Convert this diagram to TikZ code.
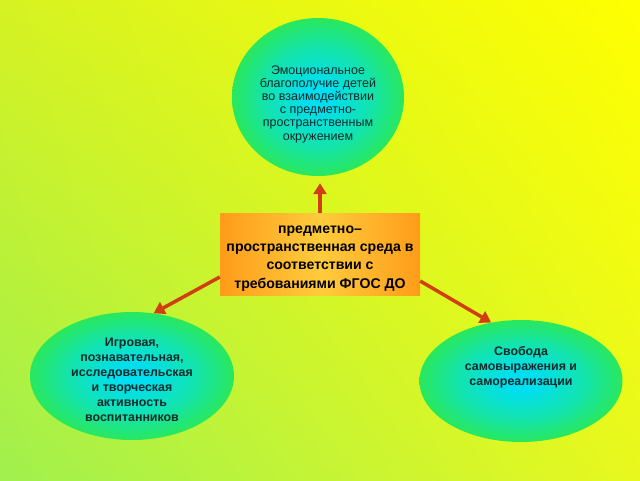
\documentclass[tikz,border=0pt]{standalone}
\usepackage{fontspec}
\setmainfont{Liberation Sans}
\usetikzlibrary{shapes.geometric,arrows.meta,calc,shadings}
\definecolor{bgUL}{RGB}{214,242,34}
\definecolor{bgUR}{RGB}{255,255,0}
\definecolor{bgLL}{RGB}{160,240,78}
\definecolor{bgLR}{RGB}{232,248,30}
\definecolor{ellIn}{RGB}{0,222,240}
\definecolor{ellMid}{RGB}{20,228,170}
\definecolor{ellOut}{RGB}{44,232,84}
\definecolor{boxEdge}{RGB}{255,156,26}
\definecolor{boxMid}{RGB}{255,204,60}
\definecolor{arrCol}{RGB}{208,62,18}
\definecolor{txtDark}{RGB}{18,42,42}
\pgfdeclareradialshading{ellshade}{\pgfpoint{0bp}{0bp}}{color(0bp)=(ellIn); color(4bp)=(ellIn); color(16bp)=(ellMid); color(26bp)=(ellOut); color(50bp)=(ellOut)}
\tikzset{
  ell/.style={ellipse, draw=none, inner sep=0pt, shading=ellshade},
  etext/.style={align=center, text=txtDark, font=\fontsize{12.5}{13.2}\selectfont},
  btext/.style={align=center, text=txtDark, font=\fontsize{12.4}{15}\selectfont\bfseries},
  centerbox/.style={rectangle, draw=none, minimum width=200pt, minimum height=82pt, inner sep=0pt,
    left color=boxEdge, right color=boxEdge, middle color=boxMid},
  ctext/.style={align=center, text=black, font=\fontsize{14.1}{18.3}\selectfont\bfseries},
  arr/.style={draw=arrCol, line width=3.5pt, -{Triangle[length=11pt,width=13pt]}}
}
\begin{document}
\begin{tikzpicture}[x=1pt,y=-1pt]
\useasboundingbox (0,0) rectangle (640,480);
\shade[upper left=bgUL, upper right=bgUR, lower left=bgLL, lower right=bgLR] (0,0) rectangle (640,480);

\node[ell, minimum width=172pt, minimum height=158pt] (top) at (318,97) {};
\node[etext] (toptext) at (318,104) {Эмоциональное\\благополучие детей\\во взаимодействии\\с предметно-\\пространственным\\окружением};

\node[ell, minimum width=204pt, minimum height=128pt] (left) at (132,376) {};
\node[btext] (lefttext) at (132,380) {Игровая,\\познавательная,\\исследовательская\\и творческая\\активность\\воспитанников};

\node[ell, minimum width=203pt, minimum height=122pt] (right) at (521,381) {};
\node[btext] (righttext) at (521,367) {Свобода\\самовыражения и\\самореализации};

\node[centerbox] (c) at (320,254) {};
\node[ctext] (ctxt) at (320,258.5) {предметно–\\пространственная среда в\\соответствии с\\требованиями ФГОС ДО};

\draw[arr] (c.north) -- ([yshift=-7pt]c.north |- top.south);
\draw[arr] ([yshift=-23pt]c.west) -- (left.71);
\draw[arr] ([yshift=-27pt]c.east) -- (right.117);
\end{tikzpicture}
\end{document}
